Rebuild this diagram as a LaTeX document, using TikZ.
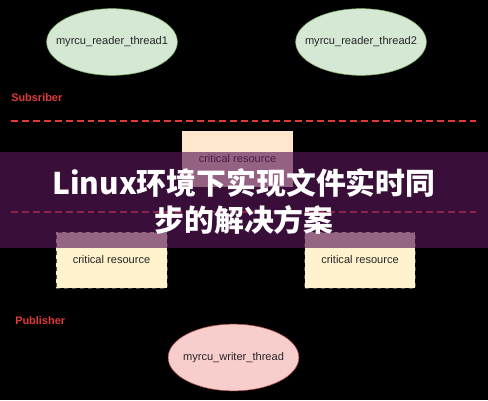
\documentclass[tikz,border=0pt]{standalone}
\usepackage{fontspec}
\setmainfont{Liberation Sans}
\newfontfamily\cjk{Noto Sans CJK SC}
\usetikzlibrary{shapes.geometric}
\definecolor{readerfill}{HTML}{D5E8D4}
\definecolor{readerline}{HTML}{82B366}
\definecolor{writerfill}{HTML}{F8CECC}
\definecolor{writerline}{HTML}{B85450}
\definecolor{peach}{HTML}{FFE6CC}
\definecolor{cream}{HTML}{FFF2CC}
\definecolor{labelred}{HTML}{E03A3A}
\definecolor{banner}{HTML}{5A175A}
\begin{document}
\begin{tikzpicture}[x=0.75pt,y=-0.75pt,
  thread/.style={ellipse, minimum width=98pt, minimum height=50pt, inner sep=0pt,
    label={[font=\fontsize{8.3}{10}\selectfont, text=black!85, inner sep=0pt]center:#1}},
  reader/.style={thread=#1, draw=readerline, fill=readerfill},
  writer/.style={thread=#1, draw=writerline, fill=writerfill},
  resource/.style={rectangle, minimum width=83pt, minimum height=42pt, inner sep=0pt,
    font=\fontsize{8.3}{10}\selectfont, text=black!85},
  resbox/.style={resource, fill=cream, draw=black!70, dashed, line width=0.5pt},
  resboxtop/.style={resource, fill=peach},
  rolelabel/.style={anchor=west, inner sep=0pt, text=labelred, font=\bfseries\fontsize{8.2}{9}\selectfont},
  divider/.style={draw=labelred, line width=1.4pt, dash pattern=on 5.2pt off 3pt},
  titletext/.style={text=white, align=center, font=\cjk\bfseries\fontsize{22.4}{27.75}\selectfont}
]
\useasboundingbox[fill=black] (0,0) rectangle (488,400);

\node[reader={myrcu\_reader\_thread1}] (r1) at (112,42) {};
\node[reader={myrcu\_reader\_thread2}] (r2) at (361,42) {};

\node[rolelabel] (sub) at (11,98) {Subsriber};
\coordinate (d1a) at (11,121);
\coordinate (d1b) at (476,121);
\draw[divider] (d1a) -- (d1b);

\node[resboxtop] (cr0) at (237.5,159) {critical resource};

\coordinate (d2a) at (11,212);
\coordinate (d2b) at (476,212);
\draw[divider] (d2a) -- (d2b);

\node[resbox] (cr1) at (111.5,260) {critical resource};
\node[resbox] (cr2) at (360,260) {critical resource};

\node[rolelabel] (pub) at (15,321) {Publisher};
\node[writer={myrcu\_writer\_thread}] (w) at (233.5,357.5) {};

\fill[banner, opacity=0.64] (0,152) rectangle (488,248);
\node[titletext] (title) at (244,201.5) {Linux环境下实现文件实时同\\步的解决方案};
\end{tikzpicture}
\end{document}
